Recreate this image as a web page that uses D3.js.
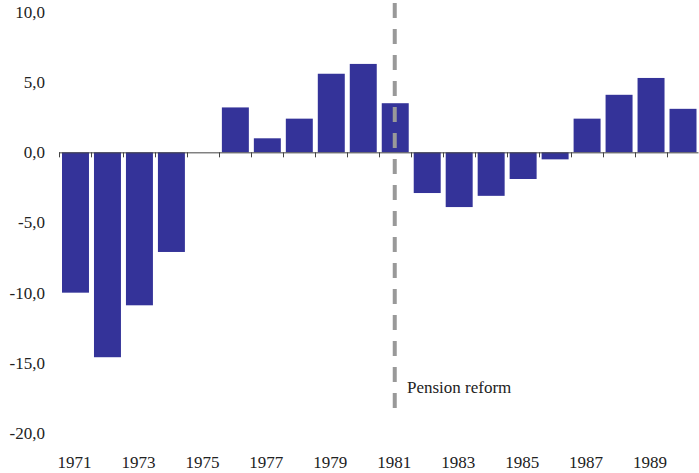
<!DOCTYPE html>
<html>
<head>
<meta charset="utf-8">
<script src="https://cdn.jsdelivr.net/npm/d3@7"></script>
<style>
html,body{margin:0;padding:0;background:#fff;}
svg text{font-family:"Palatino Linotype","Book Antiqua",Palatino,"Liberation Serif","DejaVu Serif",serif;fill:#222;}
</style>
</head>
<body>
<svg id="chart" width="699" height="473"></svg>
<script>
const years = [1971,1972,1973,1974,1975,1976,1977,1978,1979,1980,1981,1982,1983,1984,1985,1986,1987,1988,1989,1990];
const values = [-10.0,-14.6,-10.9,-7.1,0.0,3.2,1.0,2.4,5.6,6.3,3.5,-2.9,-3.9,-3.1,-1.9,-0.5,2.4,4.1,5.3,3.1];
const yTicks = [10,5,0,-5,-10,-15,-20];
const xLabelYears = [1971,1973,1975,1977,1979,1981,1983,1985,1987,1989];
const reformYear = 1981;
const reformLabel = "Pension reform";

const svg = d3.select("#chart");
const xEdges = d3.scaleLinear().domain([0, years.length]).range([59, 698.5]);
const y = d3.scaleLinear().domain([-20, 10]).range([433, 12]);
const fmt = v => d3.format(".1f")(v).replace(".", ",").replace("−","-");

// y labels
svg.append("g").selectAll("text").data(yTicks).join("text")
  .attr("x", 45).attr("y", d => y(d)).attr("dy", "0.35em")
  .attr("text-anchor", "end").attr("font-size", 17)
  .text(d => fmt(d));

// bars
svg.append("g").selectAll("rect").data(values).join("rect")
  .attr("x", (d,i) => xEdges(i) + 3)
  .attr("width", xEdges(1) - xEdges(0) - 5)
  .attr("y", d => y(Math.max(0,d)))
  .attr("height", d => Math.abs(y(d) - y(0)))
  .attr("fill", "#343399");

// axis line and ticks at band edges
const ax = svg.append("g").attr("stroke", "#444").attr("stroke-width", 1);
ax.append("line").attr("x1", 59).attr("x2", 698.5).attr("y1", y(0)+0.5).attr("y2", y(0)+0.5);
ax.selectAll("line.t").data(d3.range(years.length+1)).join("line").attr("class","t")
  .attr("x1", i => Math.round(xEdges(i))+0.5).attr("x2", i => Math.round(xEdges(i))+0.5)
  .attr("y1", y(0)).attr("y2", y(0)+5);

// x labels
svg.append("g").selectAll("text").data(xLabelYears).join("text")
  .attr("x", d => xEdges(years.indexOf(d)) + 15.5).attr("y", 462).attr("dy","0.35em")
  .attr("text-anchor", "middle").attr("font-size", 17)
  .text(d => d);

// reform dashed line
const rx = xEdges(years.indexOf(reformYear)) + 16;
svg.append("line").attr("x1", rx).attr("x2", rx).attr("y1", 3).attr("y2", 408)
  .attr("stroke", "#999").attr("stroke-width", 4).attr("stroke-dasharray", "15,11");
svg.append("text").attr("x", 407).attr("y", 387).attr("dy","0.35em")
  .attr("font-size", 17).text(reformLabel);
</script>
</body>
</html>
